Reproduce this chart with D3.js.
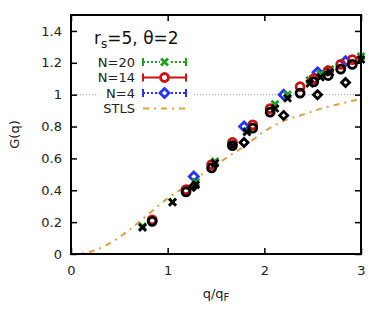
<!DOCTYPE html>
<html>
<head>
<meta charset="utf-8">
<script src="https://cdn.jsdelivr.net/npm/d3@7"></script>
<style>
  body { margin: 0; background: #fff; }
  svg { display: block; font-family: 'DejaVu Sans', sans-serif; }
</style>
</head>
<body>
<div id="chart"></div>
<script>
// N=20
const qN20 = [0.74, 1.05, 1.29, 1.49, 1.67, 1.82, 2.11, 2.24, 2.47, 2.58, 2.68, 3.0]
const gN20 = [0.172, 0.326, 0.45, 0.58, 0.69, 0.77, 0.94, 1.0, 1.09, 1.13, 1.16, 1.24]
const gN20ref = [0.167, 0.325, 0.435, 0.57, 0.68, 0.765, 0.914, 0.977, 1.07, 1.11, 1.14, 1.22]
// N=14
const qN14 = [0.84, 1.19, 1.455, 1.67, 1.88, 2.06, 2.37, 2.51, 2.66, 2.79, 2.91]
const gN14 = [0.214, 0.404, 0.561, 0.7, 0.81, 0.912, 1.05, 1.1, 1.15, 1.19, 1.22]
const gN14ref = [0.205, 0.39, 0.54, 0.68, 0.79, 0.89, 1.01, 1.08, 1.12, 1.16, 1.19]
// N=4
const qN4 = [1.27, 1.79, 2.2, 2.55, 2.84]
const gN4 = [0.487, 0.8, 1.0, 1.14, 1.21]
const gN4ref = [0.425, 0.7, 0.87, 1.0, 1.076]
// STLS
const qSTLS = [0, 0.15, 0.3, 0.45, 0.6, 0.8, 1.0, 1.2, 1.4, 1.6, 1.8, 2.0, 2.2, 2.4, 2.6, 2.8, 3.0]
const gSTLS = [0, 0.008, 0.035, 0.085, 0.15, 0.25, 0.35, 0.43, 0.52, 0.6, 0.68, 0.77, 0.835, 0.875, 0.915, 0.945, 0.975]

const xTicks = [0, 1, 2, 3]
const yTicks = [0, 0.2, 0.4, 0.6, 0.8, 1, 1.2, 1.4]

const width = 386
const height = 320
const margin = { top: 15, right: 25, bottom: 66, left: 71 }

const green = '#1fa01f'
const red = '#d01010'
const blue = '#2233ff'
const orange = '#e0a040'

const x = d3.scaleLinear().domain([0, 3]).range([margin.left, width - margin.right])
const y = d3.scaleLinear().domain([0, 1.5]).range([height - margin.bottom, margin.top])

const svg = d3.select('#chart').append('svg').attr('width', width).attr('height', height)

const zip = (qs, gs) => qs.map((q, i) => [q, gs[i]])

// reference line at G=1
svg.append('line')
  .attr('x1', x(0)).attr('x2', x(3))
  .attr('y1', y(1)).attr('y2', y(1))
  .attr('stroke', '#999').attr('stroke-width', 1).attr('stroke-dasharray', '1,2')

// STLS curve
const line = d3.line().x((d) => x(d[0])).y((d) => y(d[1])).curve(d3.curveMonotoneX)
svg.append('path')
  .datum(zip(qSTLS, gSTLS))
  .attr('d', line)
  .attr('fill', 'none')
  .attr('stroke', orange)
  .attr('stroke-width', 2)
  .attr('stroke-dasharray', '6,5,2,5')

const sw = 2.8

const drawX = (g, color, s) => {
  g.append('path')
    .attr('d', `M${-s},${-s}L${s},${s}M${-s},${s}L${s},${-s}`)
    .attr('stroke', color).attr('stroke-width', sw).attr('fill', 'none')
}
const drawCircle = (g, color, s) => {
  g.append('circle').attr('r', s)
    .attr('stroke', color).attr('stroke-width', sw).attr('fill', 'none')
}
const drawDiamond = (g, color, s) => {
  g.append('path')
    .attr('d', `M0,${-s}L${s},0L0,${s}L${-s},0Z`)
    .attr('stroke', color).attr('stroke-width', sw).attr('fill', 'none')
}

const points = (qs, gs, draw, color, s) => {
  svg.append('g')
    .selectAll('g')
    .data(zip(qs, gs))
    .join('g')
    .attr('transform', (d) => `translate(${x(d[0])},${y(d[1])})`)
    .each(function() { draw(d3.select(this), color, s) })
}

points(qN4, gN4, drawDiamond, blue, 4.5)
points(qN20, gN20, drawX, green, 3.5)
points(qN14, gN14, drawCircle, red, 4)
points(qN4, gN4ref, drawDiamond, '#000', 4)
points(qN20, gN20ref, drawX, '#000', 3.5)
points(qN14, gN14ref, drawCircle, '#000', 4)

// axes frame
const plotH = height - margin.top - margin.bottom
const plotW = width - margin.left - margin.right
const tick = 6

const xAxis = svg.append('g')
  .attr('transform', `translate(0,${height - margin.bottom})`)
  .call(d3.axisBottom(x).tickValues(xTicks).tickSizeInner(-tick).tickSizeOuter(0).tickPadding(12).tickFormat(d3.format('d')))
const xTop = svg.append('g')
  .attr('transform', `translate(0,${margin.top})`)
  .call(d3.axisTop(x).tickValues(xTicks).tickSizeInner(-tick).tickSizeOuter(0).tickFormat(''))
const yAxis = svg.append('g')
  .attr('transform', `translate(${margin.left},0)`)
  .call(d3.axisLeft(y).tickValues(yTicks).tickSizeInner(-tick).tickSizeOuter(0).tickPadding(9).tickFormat((d) => d3.format('')(d)))
const yRight = svg.append('g')
  .attr('transform', `translate(${width - margin.right},0)`)
  .call(d3.axisRight(y).tickValues(yTicks).tickSizeInner(-tick).tickSizeOuter(0).tickFormat(''))

for (const a of [xAxis, xTop, yAxis, yRight]) {
  a.select('.domain').remove()
  a.selectAll('.tick line').attr('stroke', '#000').attr('stroke-width', 1.5)
  a.selectAll('.tick text').attr('font-size', 13).attr('fill', '#222').attr('font-family', 'DejaVu Sans, sans-serif')
}

svg.append('rect')
  .attr('x', margin.left).attr('y', margin.top)
  .attr('width', plotW).attr('height', plotH)
  .attr('fill', 'none').attr('stroke', '#000').attr('stroke-width', 2)

// axis labels
const xl = svg.append('text')
  .attr('x', x(1.5)).attr('y', 298)
  .attr('text-anchor', 'middle').attr('font-size', 13).attr('fill', '#222')
xl.append('tspan').text('q/q')
xl.append('tspan').attr('font-size', 10).attr('dy', 3).text('F')

svg.append('text')
  .attr('transform', `translate(19,${y(0.75)}) rotate(-90)`)
  .attr('text-anchor', 'middle').attr('font-size', 13).attr('fill', '#222')
  .text('G(q)')

// title
const title = svg.append('text')
  .attr('x', 94).attr('y', 44).attr('font-size', 17).attr('fill', '#111')
title.append('tspan').text('r')
title.append('tspan').attr('font-size', 12).attr('dy', 4).text('s')
title.append('tspan').attr('dy', -4).text('=5, θ=2')

// legend
const legendItems = [
  { label: 'N=20', color: green, dash: '2,2', caps: true, draw: drawX, s: 3.5 },
  { label: 'N=14', color: red, dash: null, caps: true, draw: drawCircle, s: 4 },
  { label: 'N=4', color: blue, dash: '2,2', caps: true, draw: drawDiamond, s: 4.5 },
  { label: 'STLS', color: orange, dash: '6,5,2,5', caps: false, draw: null }
]

svg.append('rect')
  .attr('x', 97).attr('y', 54).attr('width', 96).attr('height', 62)
  .attr('fill', '#fff')

const legend = svg.append('g')
  .selectAll('g')
  .data(legendItems)
  .join('g')
  .attr('transform', (d, i) => `translate(0,${62 + i * 15.5})`)

legend.append('text')
  .attr('x', 135).attr('dy', '0.35em')
  .attr('text-anchor', 'end').attr('font-size', 13).attr('fill', '#222')
  .text((d) => d.label)

legend.append('line')
  .attr('x1', 143).attr('x2', 186)
  .attr('stroke', (d) => d.color).attr('stroke-width', 2)
  .attr('stroke-dasharray', (d) => d.dash)

legend.each(function(d) {
  const g = d3.select(this)
  if (d.caps) {
    for (const cx of [143, 186]) {
      g.append('line').attr('x1', cx).attr('x2', cx).attr('y1', -4).attr('y2', 4)
        .attr('stroke', d.color).attr('stroke-width', 2)
    }
  }
  if (d.draw) {
    const m = g.append('g').attr('transform', 'translate(164.5,0)')
    m.append('circle').attr('r', d.s + 1).attr('fill', '#fff')
    d.draw(m, d.color, d.s)
  }
})
</script>
</body>
</html>
